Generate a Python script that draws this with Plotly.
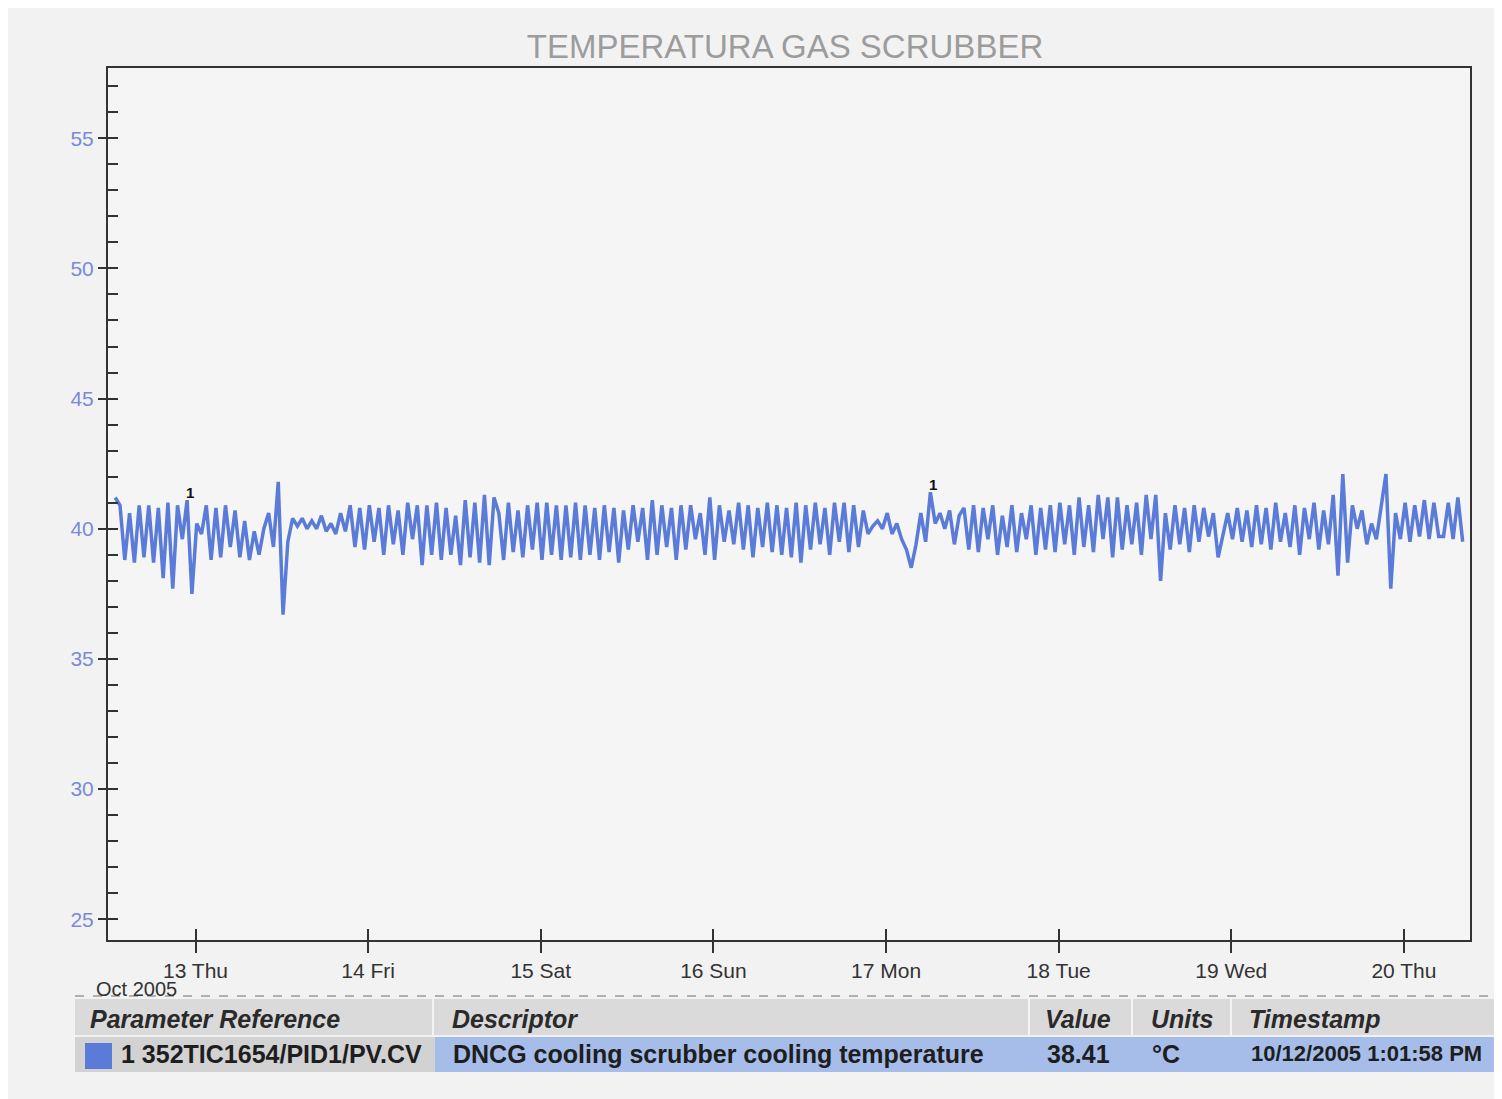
import plotly.graph_objects as go
import pandas as pd

# ---------------- data ----------------
start_time = "2005-10-12 12:50"
sample_minutes = 40
temperature = [
    41.2, 40.9, 38.8, 40.6, 38.7, 40.9, 38.9, 40.9, 38.7, 40.8, 38.1, 41.0, 37.7, 40.9, 39.6, 41.1, 37.5,
    40.2, 39.8, 40.9, 38.8, 40.8, 38.9, 40.9, 39.3, 40.7, 38.9, 40.3, 38.8, 39.9, 39.0, 40.0, 40.6, 39.3, 41.8, 36.7, 39.5, 40.4,
    40.1, 40.4, 40.0, 40.3, 40.0, 40.5, 39.9, 40.2,
    39.8, 40.6, 39.9, 40.9, 39.3, 40.8, 39.2, 40.9, 39.5, 40.8, 39.0, 40.9, 39.4, 40.7, 39.0, 41.0, 39.6, 40.9, 38.6, 40.9, 39.0, 41.0, 38.8, 40.8,
    39.0, 40.5, 38.6, 41.1, 38.9, 41.0, 38.7, 41.3, 38.6, 41.2,
    40.6, 38.8, 41.0, 39.1, 40.7, 38.9, 40.9, 39.2, 41.0, 38.8,
    41.0, 39.0, 40.9, 38.8, 40.9, 38.9, 41.0, 38.8, 40.9, 39.0,
    40.8, 38.8, 40.9, 39.1, 40.8, 38.7, 40.7, 39.2, 40.9, 39.5,
    40.8, 38.8, 41.1, 39.0, 40.9, 39.3, 40.8, 38.8, 40.9, 39.2,
    40.9, 39.6, 40.6, 39.0, 41.2, 38.8, 40.9, 39.5, 40.7, 39.4,
    41.0, 39.2, 40.9, 38.9, 40.8, 39.3, 41.0, 39.1, 40.9, 39.0,
    40.8, 38.9, 41.0, 38.7, 40.9, 39.2, 41.0, 39.4, 40.8, 39.0, 41.0, 39.5, 41.0, 39.1, 40.9, 39.3, 40.7,
    39.8, 40.1, 40.3, 40.0, 40.6, 39.8, 40.2, 39.6, 39.2, 38.5, 39.4, 40.6, 39.5, 41.4, 40.2, 40.6, 40.0, 40.7, 39.4, 40.5, 40.8,
    39.2, 40.9, 39.1, 40.8, 39.6, 40.9, 39.0, 40.5, 39.3, 40.9, 39.1, 40.6, 39.6, 40.9, 39.0, 40.8, 39.2, 40.9, 39.1, 41.0,
    39.4, 40.9, 39.0, 41.2, 39.3, 40.9, 39.1, 41.3, 39.6, 41.2, 38.9,
    41.2, 39.2, 40.9, 39.4, 41.0, 39.0, 41.3, 39.6, 41.3, 38.0, 40.6, 39.2, 40.9, 39.4, 40.8, 39.1, 40.9, 39.5, 40.8, 39.7,
    40.6, 38.9, 39.8, 40.6, 39.6, 40.8, 39.5, 40.7, 39.3, 40.9, 39.4, 40.8, 39.2, 41.0, 39.5, 40.6, 39.3, 40.9, 39.0, 40.8,
    39.6, 41.0, 39.2, 40.7, 39.4, 41.3, 38.2, 42.1, 38.7, 40.9, 40.0, 40.7, 39.4, 40.2, 39.6, 40.8, 42.1, 37.7, 40.6, 39.6,
    41.0, 39.5, 40.9, 39.7, 41.1, 39.6, 41.0, 39.7, 39.7, 41.0, 39.6, 41.2, 39.5,
]
marker_indices = [15, 170]

x_tick_dates = ["2005-10-13", "2005-10-14", "2005-10-15", "2005-10-16",
                "2005-10-17", "2005-10-18", "2005-10-19", "2005-10-20"]
x_tick_labels = ["13 Thu", "14 Fri", "15 Sat", "16 Sun", "17 Mon", "18 Tue", "19 Wed", "20 Thu"]
y_tick_values = [25, 30, 35, 40, 45, 50, 55]
x_range = ["2005-10-12 11:50", "2005-10-20 09:11"]
y_range = [24.2, 57.7]

title_text = "TEMPERATURA GAS SCRUBBER"
table_headers = ["Parameter Reference", "Descriptor", "Value", "Units", "Timestamp"]
table_row = ["1 352TIC1654/PID1/PV.CV", "DNCG cooling scrubber cooling temperature",
             "38.41", "°C", "10/12/2005 1:01:58 PM"]

times = pd.date_range(start=start_time, periods=len(temperature), freq=f"{sample_minutes}min")

# ---------------- layout helpers ----------------
OFF = 8                      # page body margin
W, H = 1502 - OFF, 1099 - OFF
L, R, T, B = 108 - OFF, 1470 - OFF, 68 - OFF, 940 - OFF
LINE_COLOR = "#5b7bd9"
FONT = "Liberation Sans, Arial, sans-serif"


def fx(px):
    return (px - OFF - L) / (R - L)


def fy(py):
    return (B - (py - OFF)) / (B - T)


fig = go.Figure()
fig.add_trace(go.Scatter(x=times, y=temperature, mode="lines",
                         line=dict(color=LINE_COLOR, width=3.5), hoverinfo="skip",
                         showlegend=False))
# invisible trace to materialise overlay axes
fig.add_trace(go.Scatter(x=[times[0]], y=[temperature[0]], mode="markers",
                         marker=dict(opacity=0), xaxis="x2", yaxis="y2",
                         hoverinfo="skip", showlegend=False))

shapes = []
annotations = []

# trace number markers
for i in marker_indices:
    annotations.append(dict(x=times[i], y=temperature[i], xref="x", yref="y",
                            text="<b>1</b>", showarrow=False, xshift=3, yshift=8,
                            font=dict(family=FONT, size=15, color="#111")))

# "Oct 2005"
annotations.append(dict(x=fx(94), y=fy(989), xref="paper", yref="paper", text="Oct 2005",
                        xanchor="left", yanchor="middle", showarrow=False,
                        font=dict(family=FONT, size=20, color="#333")))

# ---------- bottom table ----------
tbl_left, tbl_right = 75, 1520
hdr_top, hdr_bot = 999, 1035
row_top, row_bot = 1037, 1072
col_edges = [tbl_left, 433, 1029, 1132, 1231]
shapes.append(dict(type="line", xref="paper", yref="paper", x0=fx(tbl_left), x1=fx(tbl_right),
                   y0=fy(996), y1=fy(996), line=dict(color="#9a9a9a", width=1.5, dash="dash")))
shapes.append(dict(type="rect", xref="paper", yref="paper", x0=fx(tbl_left), x1=fx(tbl_right),
                   y0=fy(hdr_bot), y1=fy(hdr_top), fillcolor="#dadada", line=dict(width=0)))
for cx in col_edges[1:]:
    shapes.append(dict(type="line", xref="paper", yref="paper", x0=fx(cx), x1=fx(cx),
                       y0=fy(hdr_bot), y1=fy(hdr_top), line=dict(color="#f4f4f4", width=2)))
shapes.append(dict(type="rect", xref="paper", yref="paper", x0=fx(tbl_left), x1=fx(col_edges[1] + 2),
                   y0=fy(row_bot), y1=fy(row_top), fillcolor="#d2d2d2", line=dict(width=0)))
shapes.append(dict(type="rect", xref="paper", yref="paper", x0=fx(col_edges[1] + 2), x1=fx(tbl_right),
                   y0=fy(row_bot), y1=fy(row_top), fillcolor="#a5bde8", line=dict(width=0)))
shapes.append(dict(type="rect", xref="paper", yref="paper", x0=fx(85), x1=fx(112),
                   y0=fy(1069), y1=fy(1043), fillcolor=LINE_COLOR, line=dict(width=0)))

hdr_x = [88, 450, 1043, 1149, 1247]
row_x = [119, 451, 1045, 1150, 1249]
row_sizes = [25, 25, 25, 25, 22]
for txt, px in zip(table_headers, hdr_x):
    annotations.append(dict(x=fx(px), y=fy((hdr_top + hdr_bot) / 2 + 2), xref="paper", yref="paper",
                            text=f"<b><i>{txt}</i></b>", xanchor="left", yanchor="middle",
                            showarrow=False, font=dict(family=FONT, size=25, color="#2a2a2a")))
for txt, px, sz in zip(table_row, row_x, row_sizes):
    annotations.append(dict(x=fx(px), y=fy((row_top + row_bot) / 2 - 1), xref="paper", yref="paper",
                            text=f"<b>{txt}</b>", xanchor="left", yanchor="middle",
                            showarrow=False, font=dict(family=FONT, size=sz, color="#1e1e1e")))

fig.update_layout(
    width=W, height=H,
    margin=dict(l=L, r=W - R, t=T, b=H - B, pad=0),
    paper_bgcolor="#f2f2f2", plot_bgcolor="#f5f5f5",
    title=dict(text=title_text, x=(785 - OFF) / W, xref="container", y=1 - (46 - OFF) / H,
               yref="container", xanchor="center", yanchor="middle",
               font=dict(family=FONT, size=33, color="#9c9c9c")),
    xaxis=dict(range=x_range, type="date", tickvals=x_tick_dates, ticktext=x_tick_labels,
               ticks="outside", ticklen=11, tickwidth=1.5, tickcolor="#333",
               showgrid=False, zeroline=False, showline=True, linecolor="#333", linewidth=2,
               mirror=True, tickfont=dict(family=FONT, size=21, color="#333")),
    xaxis2=dict(range=x_range, type="date", tickvals=x_tick_dates, overlaying="x", anchor="y",
                ticks="inside", ticklen=11, tickwidth=1.5, tickcolor="#333",
                showticklabels=False, showgrid=False, zeroline=False, showline=False),
    yaxis=dict(range=y_range, tickvals=y_tick_values, ticks="outside", ticklen=8,
               tickwidth=1.5, tickcolor="#333", showgrid=False, zeroline=False,
               showline=True, linecolor="#333", linewidth=2, mirror=True,
               tickfont=dict(family=FONT, size=21, color="#7a8ad8")),
    yaxis2=dict(range=y_range, tickvals=y_tick_values, overlaying="y", anchor="x", side="left",
                ticks="inside", ticklen=10, tickwidth=1.5, tickcolor="#333",
                minor=dict(dtick=1, tick0=25, ticks="inside", ticklen=10, tickwidth=1.5, tickcolor="#333"),
                showticklabels=False, showgrid=False, zeroline=False, showline=False),
    shapes=shapes, annotations=annotations,
)

fig.write_html("out.html")
